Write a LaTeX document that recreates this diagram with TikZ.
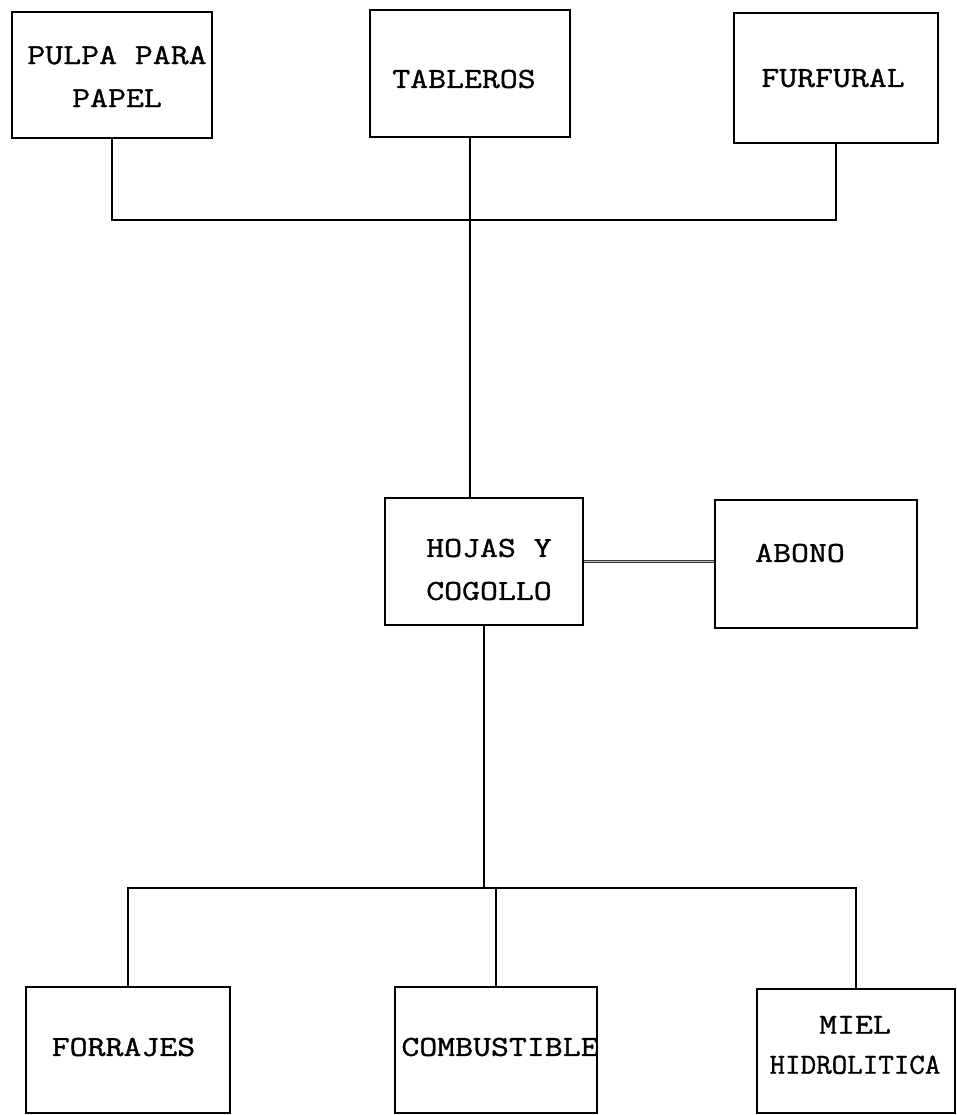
\documentclass[tikz,border=0pt]{standalone}
\usepackage{fontspec}
\newfontfamily\tw[FakeStretch=1.2, FakeBold=1.2]{Latin Modern Mono}
\newfontfamily\twn[FakeStretch=1.04, FakeBold=1.2]{Latin Modern Mono}
\usetikzlibrary{calc}
\begin{document}
\begin{tikzpicture}[x=1pt,y=-1pt,
  box/.style 2 args={draw=black, line width=2pt, minimum width=#1pt, minimum height=#2pt, inner sep=0pt},
  txt/.style={font=\tw\fontsize{29}{43}\selectfont, align=center, inner sep=0pt, text=black},
  conn/.style={line width=1.8pt, draw=black},
  dconn/.style={draw=black!75, line width=0.9pt, double=black!30, double distance=0.9pt}]
\useasboundingbox (0,0) rectangle (957,1115);
% boxes
\node[box={200}{126}] (pulpa) at (112,75) {};
\node[box={200}{127}] (tableros) at (470,73.5) {};
\node[box={204}{130}] (furfural) at (836,78) {};
\node[box={198}{127}] (hojas) at (484,561.5) {};
\node[box={202}{128}] (abono) at (816,564) {};
\node[box={204}{126}] (forrajes) at (128,1050) {};
\node[box={202}{126}] (combustible) at (496,1050) {};
\node[box={198}{124}] (miel) at (856,1051) {};
% texts
\node[txt] (pulpat) at (117,76.5) {PULPA PARA\\PAPEL};
\node[txt] (tablerost) at (464,79) {TABLEROS};
\node[txt] (furfuralt) at (833,78) {FURFURAL};
\node[txt] (hojast) at (489,569.5) {HOJAS Y\\COGOLLO};
\node[txt] (abonot) at (800,553) {ABONO};
\node[txt] (forrajest) at (123.5,1047) {FORRAJES};
\node[txt] (combustiblet) at (500,1047) {COMBUSTIBLE};
\node[txt, font=\tw\fontsize{29}{40}\selectfont] (mielt) at (855,1045) {MIEL\\{\twn HIDROLITICA}};
% junctions
\coordinate (tj) at (475,220);
\coordinate (bj) at (490,888);
% connectors
\draw[conn] (pulpa.south) |- (tj) -| (furfural.south);
\draw[conn] (tableros.south) -- (tableros.south |- hojas.north);
\draw[dconn] (hojas.east) -- (hojas.east -| abono.west);
\draw[conn] (hojas.south) -- (hojas.south |- bj);
\draw[conn] (forrajes.north) |- (bj) -| (miel.north);
\draw[conn] (combustible.north) -- (combustible.north |- bj);
\end{tikzpicture}
\end{document}
